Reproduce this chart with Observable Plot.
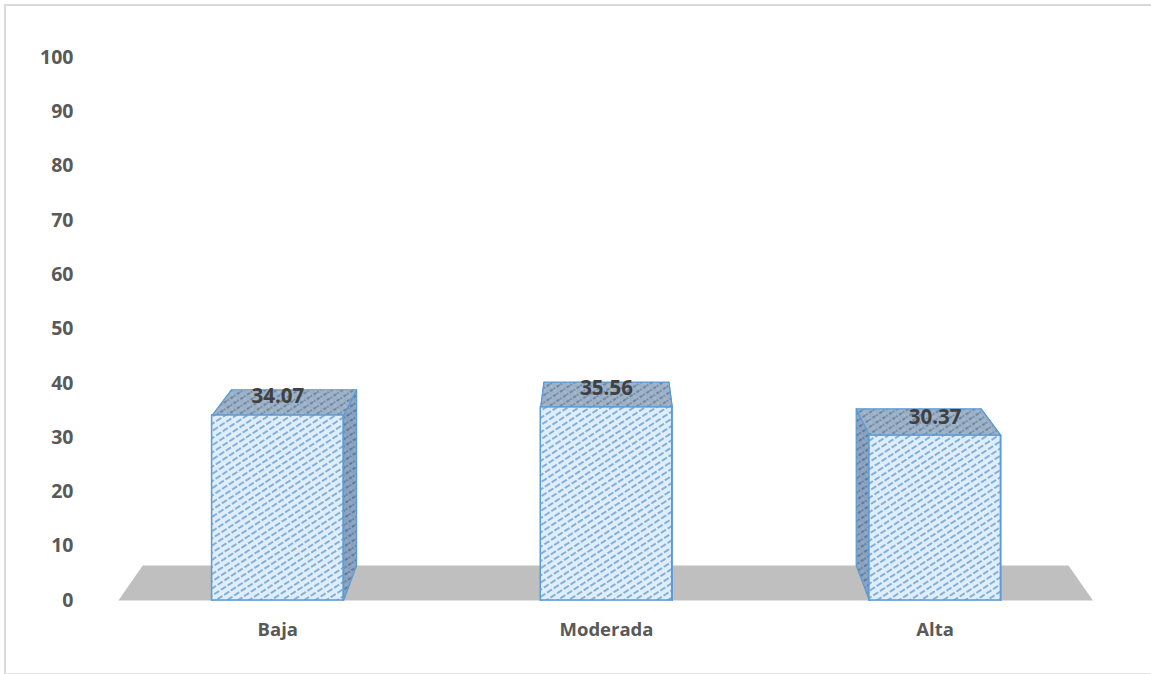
<!DOCTYPE html>
<html><head><meta charset="utf-8">
<script src="https://cdn.jsdelivr.net/npm/d3@7"></script>
<script src="https://cdn.jsdelivr.net/npm/@observablehq/plot@0.6"></script>
<style>
body{margin:0;background:#fff;overflow:hidden;}
#frame{position:absolute;left:4px;top:4px;width:1160px;height:667px;border-top:2px solid #d9d9d9;border-left:2px solid #d9d9d9;border-bottom:1px solid #e3e3e3;}
#chart{position:absolute;left:0;top:0;}
</style></head><body><div id="frame"></div><div id="chart"></div>
<script>
const categories = ["Baja", "Moderada", "Alta"];
const values = [34.07, 35.56, 30.37];
const yTicks = [0, 10, 20, 30, 40, 50, 60, 70, 80, 90, 100];
const valueLabels = ["34.07", "35.56", "30.37"];

// 3D geometry (in data units, mapped through the linear scales)
const halfW = 0.2, depthScale = 0.95, vp = {x: 0.995, y: 129};
const floorX = [-0.485, 2.48];
const back = ([x, y]) => [vp.x + (x - vp.x) * depthScale, vp.y + (y - vp.y) * depthScale];

function poly(id, pts) { return pts.map(([x, y]) => ({id, x, y})); }

const floorPts = poly("floor", [[floorX[0], 0], [floorX[1], 0], back([floorX[1], 0]), back([floorX[0], 0])]);
const sides = [], tops = [], fronts = [];
categories.forEach((c, i) => {
  const v = values[i], x1 = i - halfW, x2 = i + halfW;
  sides.push(...poly(c + "L", [[x1, v], [x1, 0], back([x1, 0]), back([x1, v])]));
  sides.push(...poly(c + "R", [[x2, v], [x2, 0], back([x2, 0]), back([x2, v])]));
  tops.push(...poly(c + "T", [[x1, v], [x2, v], back([x2, v]), back([x1, v])]));
  fronts.push({x1, x2, y1: 0, y2: v});
});
const labels = categories.map((c, i) => ({x: i, y: values[i], t: valueLabels[i]}));

const edge = "#5b9bd5";
const svg = Plot.plot({
  width: 1151, height: 674,
  marginLeft: 113, marginRight: 52, marginTop: 57, marginBottom: 74,
  style: {fontFamily: "'Open Sans', sans-serif", fontSize: "19px", color: "#595959", background: "transparent"},
  x: {type: "linear", domain: [-0.5, 2.5], axis: null},
  y: {domain: [0, 100], axis: null},
  marks: [
    Plot.line(floorPts, {x: "x", y: "y", z: "id", fill: "#bfbfbf", stroke: "none", curve: "linear-closed"}),
    Plot.line(sides, {x: "x", y: "y", z: "id", fill: "url(#hSide)", stroke: edge, strokeWidth: 1.2, curve: "linear-closed"}),
    Plot.line(tops, {x: "x", y: "y", z: "id", fill: "url(#hTop)", stroke: edge, strokeWidth: 1.2, curve: "linear-closed"}),
    Plot.rect(fronts, {x1: "x1", x2: "x2", y1: "y1", y2: "y2", fill: "url(#hFront)", stroke: edge, strokeWidth: 1.5}),
    Plot.axisY({ticks: yTicks, tickSize: 0, tickPadding: 40, fontWeight: "bold", fontSize: 19.5, label: null}),
    Plot.axisX({ticks: [0, 1, 2], tickFormat: i => categories[i], tickSize: 0, tickPadding: 22, fontWeight: "bold", fontSize: 18.5, label: null}),
    Plot.text(labels, {x: "x", y: "y", text: "t", dy: -12, lineAnchor: "bottom", fill: "#404040", fontWeight: "bold", fontSize: 20.5})
  ]
});

const defs = d3.select(svg).insert("defs", ":first-child");
function hatch(id, bg, line, w, dash, cross) {
  const p = defs.append("pattern").attr("id", id).attr("patternUnits", "userSpaceOnUse")
    .attr("width", 8).attr("height", 6).attr("patternTransform", "rotate(-33)");
  p.append("rect").attr("width", 8).attr("height", 6).attr("fill", bg);
  p.append("line").attr("x1", 0).attr("y1", 3).attr("x2", 8).attr("y2", 3)
    .attr("stroke", line).attr("stroke-width", w).attr("stroke-dasharray", dash);
  if (cross) p.append("line").attr("x1", 4).attr("y1", 0).attr("x2", 4).attr("y2", 6)
    .attr("stroke", cross).attr("stroke-width", 0.7);
}
hatch("hFront", "#dfeefa", "#4f8fcb", 1.3, "6,2", null);
hatch("hTop", "#9cb0c6", "#587797", 1.4, "6,2", "#b3c4d6");
hatch("hSide", "#8aa2bf", "#4a6a8f", 1.4, "6,2", "#a3b6cc");

document.getElementById("chart").appendChild(svg);
</script>
</body></html>
